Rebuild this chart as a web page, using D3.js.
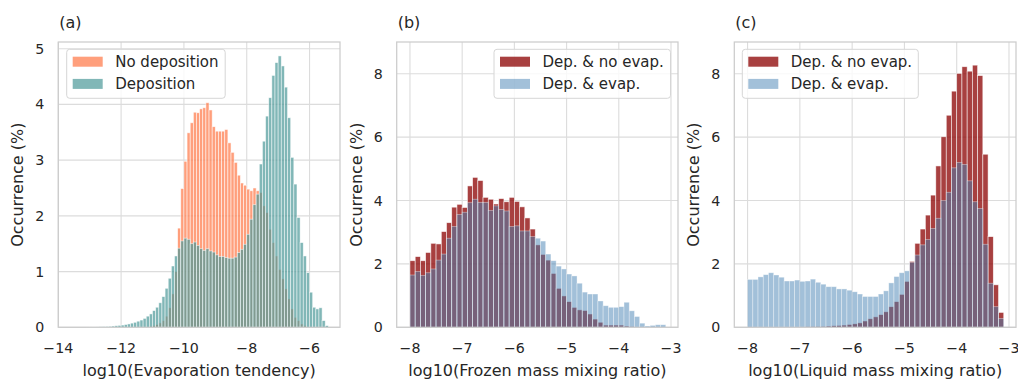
<!DOCTYPE html>
<html>
<head>
<meta charset="utf-8">
<script src="https://cdn.jsdelivr.net/npm/d3@7"></script>
<style>
  body { margin: 0; background: #fff; }
  svg text { font-family: "DejaVu Sans", sans-serif; fill: #262626; }
</style>
</head>
<body>
<div id="chart"></div>
<script>
// bins are 0.1 wide, each list starts at the given left edge
var binWidth = 0.1;

// (a) evaporation tendency
var noDepStart = -11.1;
var noDep = [0.02, 0.03, 0.05, 0.08, 0.12, 0.2, 0.35, 0.6, 1.0, 1.78,
  2.49, 2.98, 3.49, 3.67, 3.86, 3.85, 3.92, 3.94, 4.03, 3.9,
  3.6, 3.52, 3.52, 3.52, 3.55, 3.31, 3.14, 2.96, 2.73, 2.59,
  2.55, 2.48, 2.45, 2.5, 2.45, 2.42, 2.18, 2.06, 1.76, 1.52,
  1.28, 1.04, 0.87, 0.69, 0.51, 0.33, 0.18, 0.12, 0.06, 0.03];
var depStart = -13.1;
var dep = [0.003, 0.004, 0.005, 0.006, 0.008, 0.01, 0.013, 0.017, 0.022, 0.028,
  0.035, 0.04, 0.05, 0.06, 0.075, 0.09, 0.11, 0.13, 0.16, 0.2,
  0.24, 0.3, 0.36, 0.44, 0.55, 0.7, 0.88, 1.1, 1.28, 1.42,
  1.55, 1.6, 1.58, 1.5, 1.53, 1.47, 1.41, 1.38, 1.41, 1.37,
  1.35, 1.3, 1.27, 1.27, 1.25, 1.24, 1.24, 1.26, 1.34, 1.4,
  1.49, 1.67, 1.94, 2.2, 2.39, 2.93, 3.34, 3.79, 4.12, 4.52,
  4.75, 4.87, 4.69, 4.31, 3.76, 3.05, 2.57, 1.97, 1.52, 1.28,
  0.98, 0.63, 0.36, 0.33, 0.35, 0.12, 0.03];

// (b) frozen mass mixing ratio
var frozenStart = -8.0;
var frozenNoEvap = [2.1, 2.23, 2.1, 2.36, 2.65, 2.63, 3.02, 3.3, 3.79, 3.88,
  3.78, 4.46, 4.73, 4.63, 4.1, 4.04, 3.89, 4.06, 3.96, 4.1,
  3.97, 3.8, 3.45, 3.1, 2.6, 2.3, 2.12, 1.7, 1.23, 0.99,
  0.81, 0.63, 0.55, 0.53, 0.42, 0.26, 0.16, 0.07, 0.07, 0.07,
  0.07, 0.04, 0.02, 0.01];
var frozenEvap = [1.65, 1.76, 1.64, 1.72, 1.84, 2.12, 2.31, 2.81, 3.18, 3.56,
  3.63, 3.93, 4.04, 3.94, 3.94, 3.69, 3.83, 3.72, 3.67, 3.18,
  3.2, 3.04, 3.04, 2.86, 2.81, 2.72, 2.31, 2.1, 1.93, 1.84,
  1.68, 1.62, 1.39, 1.11, 1.05, 1.05, 0.83, 0.68, 0.63, 0.63,
  0.65, 0.79, 0.52, 0.34, 0.13, 0.04, 0.06, 0.08, 0.08];

// (c) liquid mass mixing ratio
var liquidStart = -8.0;
var liquidNoEvap = [0, 0, 0, 0, 0, 0, 0, 0, 0, 0,
  0.01, 0.015, 0.02, 0.025, 0.03, 0.04, 0.05, 0.06, 0.07, 0.09,
  0.11, 0.14, 0.2, 0.27, 0.33, 0.4, 0.49, 0.65, 0.81, 1.04,
  1.45, 2.08, 2.65, 3.1, 3.54, 4.17, 5.09, 6.01, 6.69, 7.45,
  8.01, 8.22, 8.08, 8.27, 7.94, 5.46, 2.86, 1.34, 0.47];
var liquidEvap = [1.51, 1.51, 1.59, 1.66, 1.72, 1.65, 1.58, 1.46, 1.46, 1.49,
  1.45, 1.46, 1.52, 1.42, 1.36, 1.28, 1.28, 1.21, 1.21, 1.17,
  1.12, 1.05, 0.97, 0.97, 0.97, 1.05, 1.15, 1.4, 1.6, 1.72,
  1.78, 2.05, 2.28, 2.6, 2.77, 3.12, 3.44, 4.0, 4.26, 5.03,
  5.2, 5.14, 4.62, 3.96, 3.75, 2.62, 1.39, 0.65, 0.28];

var ticksA = [-14, -12, -10, -8, -6];
var ticksBC = [-8, -7, -6, -5, -4, -3];
var yTicksA = [0, 1, 2, 3, 4, 5];
var yTicksBC = [0, 2, 4, 6, 8];

var svg = d3.select("#chart").append("svg")
  .attr("width", 1018)
  .attr("height", 380);

var fmt = function(d) { return d < 0 ? "\u2212" + Math.abs(d) : String(d); };

function panel(p) {
  var x = d3.scaleLinear().domain(p.xDomain).range([p.left, p.right]);
  var y = d3.scaleLinear().domain(p.yDomain).range([327.3, 42]);
  var g = svg.append("g");

  // grid
  g.selectAll(".gx").data(p.xTicks).enter().append("line")
    .attr("x1", d => x(d)).attr("x2", d => x(d))
    .attr("y1", 42).attr("y2", 327.3)
    .attr("stroke", "#dcdcdc").attr("stroke-width", 1.1);
  g.selectAll(".gy").data(p.yTicks).enter().append("line")
    .attr("x1", p.left).attr("x2", p.right)
    .attr("y1", d => y(d)).attr("y2", d => y(d))
    .attr("stroke", "#dcdcdc").attr("stroke-width", 1.1);

  // bars
  p.series.forEach(function(s) {
    g.append("g").selectAll("rect").data(s.values).enter().append("rect")
      .attr("x", (d, i) => x(s.start + i * binWidth))
      .attr("width", (d, i) => x(s.start + (i + 1) * binWidth) - x(s.start + i * binWidth))
      .attr("y", d => y(d))
      .attr("height", d => y(0) - y(d))
      .attr("fill", s.color)
      .attr("fill-opacity", s.alpha)
      .attr("stroke", "#fff")
      .attr("stroke-opacity", s.alpha)
      .attr("stroke-width", 0.7);
  });

  // frame
  g.append("rect")
    .attr("x", p.left).attr("y", 42)
    .attr("width", p.right - p.left).attr("height", 327.3 - 42)
    .attr("fill", "none").attr("stroke", "#cccccc").attr("stroke-width", 1.25);

  // tick labels
  g.selectAll(".tx").data(p.xTicks).enter().append("text")
    .attr("x", d => x(d)).attr("y", 353)
    .attr("text-anchor", "middle").attr("font-size", 14.2)
    .text(fmt);
  g.selectAll(".ty").data(p.yTicks).enter().append("text")
    .attr("x", p.left - 14).attr("y", d => y(d) + 5)
    .attr("text-anchor", "end").attr("font-size", 14.2)
    .text(fmt);

  // labels
  g.append("text")
    .attr("x", (p.left + p.right) / 2).attr("y", 376)
    .attr("text-anchor", "middle").attr("font-size", 16)
    .text(p.xLabel);
  g.append("text")
    .attr("transform", "translate(" + (p.left - 35) + "," + ((42 + 327.3) / 2) + ") rotate(-90)")
    .attr("text-anchor", "middle").attr("font-size", 16)
    .text("Occurrence (%)");
  g.append("text")
    .attr("x", p.left + 1).attr("y", 28)
    .attr("font-size", 16)
    .text(p.title);

  // legend
  var lx = p.legendX;
  g.append("rect")
    .attr("x", lx).attr("y", 49.3)
    .attr("width", p.legendW).attr("height", 49)
    .attr("rx", 3)
    .attr("fill", "#fff").attr("fill-opacity", 0.8)
    .attr("stroke", "#d6d6d6").attr("stroke-width", 1);
  p.legend.forEach(function(s, i) {
    g.append("rect")
      .attr("x", lx + 6).attr("y", 56.7 + i * 22.2)
      .attr("width", 30).attr("height", 10)
      .attr("fill", s.color).attr("fill-opacity", s.alpha);
    g.append("text")
      .attr("x", lx + 48.5).attr("y", 67 + i * 22.2)
      .attr("font-size", 15)
      .text(s.name);
  });
}

var coral = { color: "#ff7f50", alpha: 0.75 };
var teal = { color: "#4b9999", alpha: 0.7 };
var darkred = { color: "#8b0000", alpha: 0.75 };
var steel = { color: "#4682b4", alpha: 0.5 };

panel({
  left: 58.3, right: 340, xDomain: [-14, -5.03], yDomain: [0, 5.12],
  xTicks: ticksA, yTicks: yTicksA, title: "(a)",
  xLabel: "log10(Evaporation tendency)",
  series: [
    { start: noDepStart, values: noDep, color: coral.color, alpha: coral.alpha },
    { start: depStart, values: dep, color: teal.color, alpha: teal.alpha }
  ],
  legendX: 66.7, legendW: 158.5,
  legend: [
    { name: "No deposition", color: coral.color, alpha: coral.alpha },
    { name: "Deposition", color: teal.color, alpha: teal.alpha }
  ]
});

panel({
  left: 396.7, right: 678, xDomain: [-8.254, -2.866], yDomain: [0, 9.0],
  xTicks: ticksBC, yTicks: yTicksBC, title: "(b)",
  xLabel: "log10(Frozen mass mixing ratio)",
  series: [
    { start: frozenStart, values: frozenNoEvap, color: darkred.color, alpha: darkred.alpha },
    { start: frozenStart, values: frozenEvap, color: steel.color, alpha: steel.alpha }
  ],
  legendX: 494, legendW: 176.5,
  legend: [
    { name: "Dep. & no evap.", color: darkred.color, alpha: darkred.alpha },
    { name: "Dep. & evap.", color: steel.color, alpha: steel.alpha }
  ]
});

panel({
  left: 734.3, right: 1016, xDomain: [-8.254, -2.866], yDomain: [0, 9.0],
  xTicks: ticksBC, yTicks: yTicksBC, title: "(c)",
  xLabel: "log10(Liquid mass mixing ratio)",
  series: [
    { start: liquidStart, values: liquidNoEvap, color: darkred.color, alpha: darkred.alpha },
    { start: liquidStart, values: liquidEvap, color: steel.color, alpha: steel.alpha }
  ],
  legendX: 742.3, legendW: 176,
  legend: [
    { name: "Dep. & no evap.", color: darkred.color, alpha: darkred.alpha },
    { name: "Dep. & evap.", color: steel.color, alpha: steel.alpha }
  ]
});
</script>
</body>
</html>
